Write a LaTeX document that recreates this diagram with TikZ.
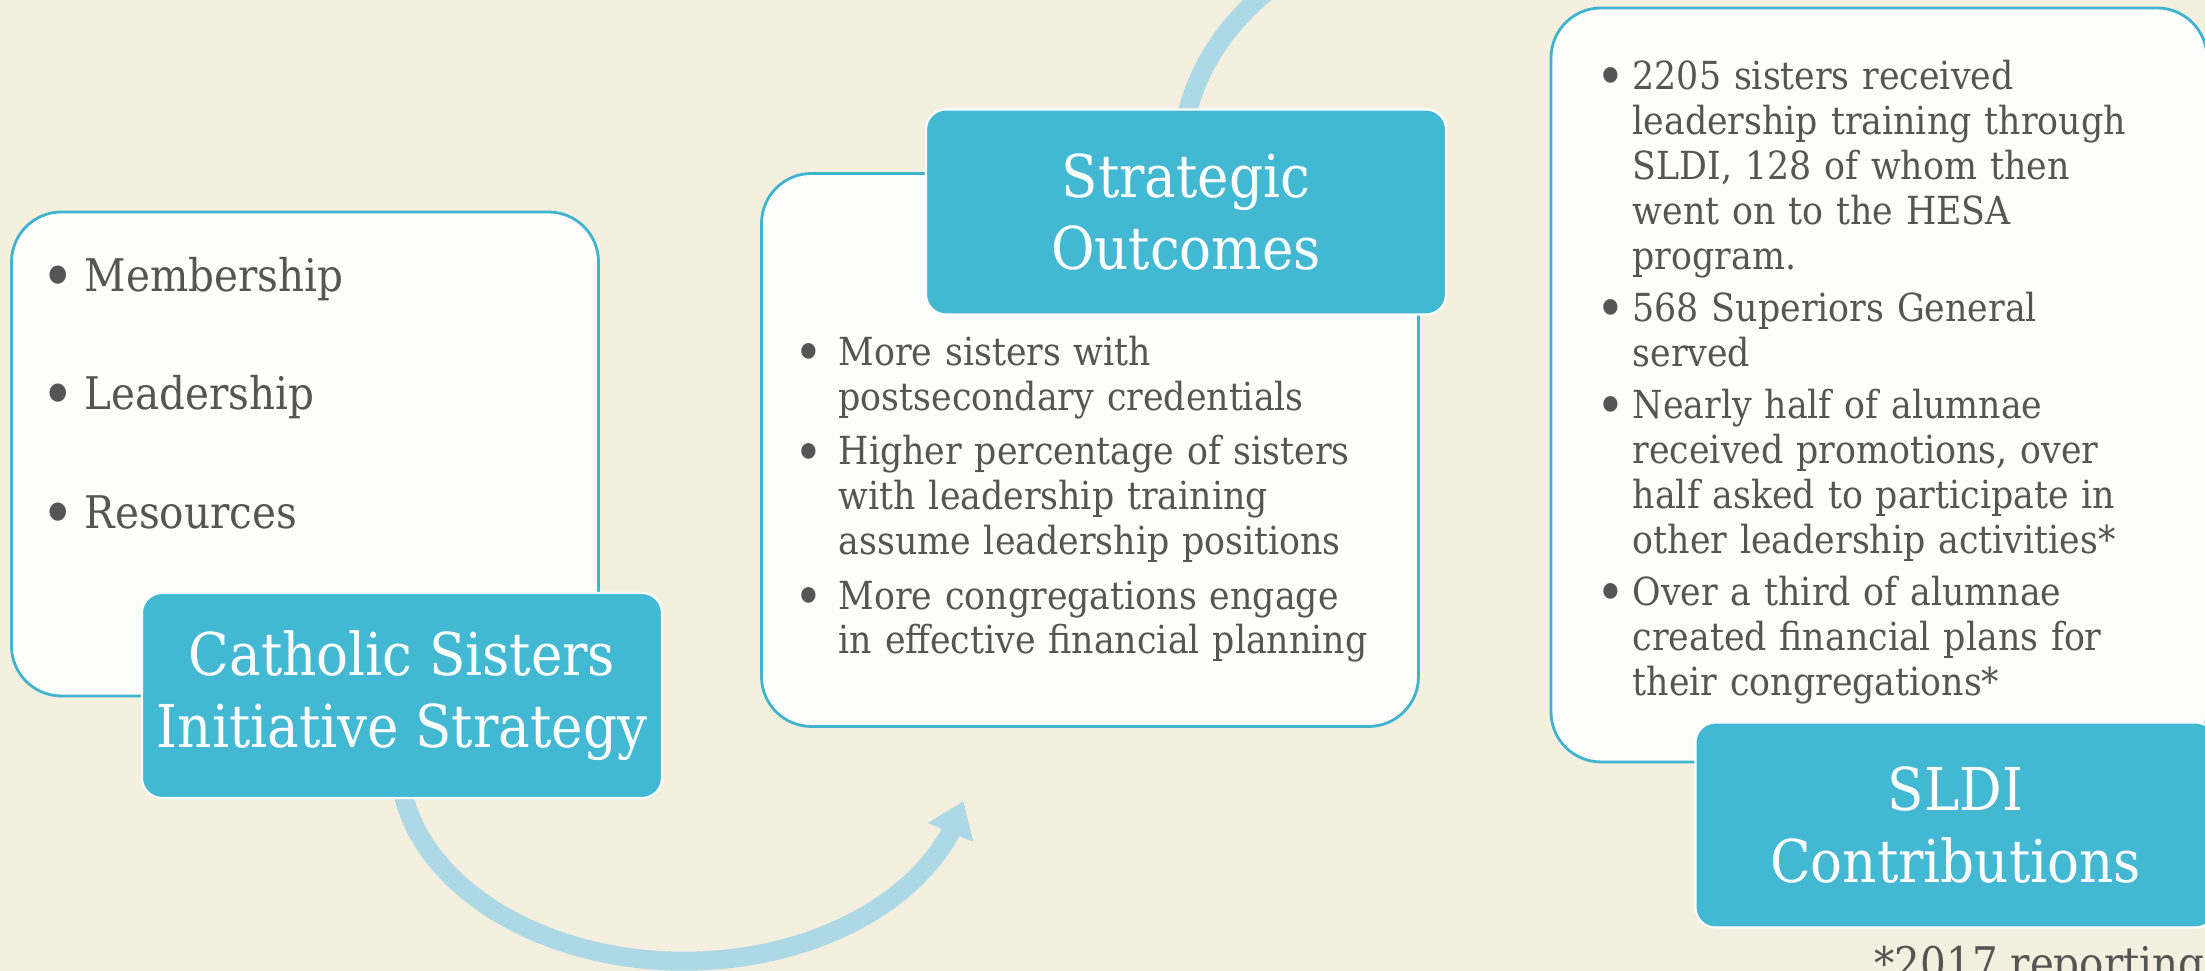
\documentclass[tikz,border=0pt]{standalone}
\usepackage{fontspec}
\setmainfont{DejaVu Serif Condensed}
\usepackage{tikz}
\usetikzlibrary{arrows.meta,bending,backgrounds,positioning}

\definecolor{paper}{HTML}{F5EFDF}
\definecolor{card}{HTML}{FDFDFB}
\definecolor{rim}{HTML}{40B4CE}
\definecolor{tile}{HTML}{42B8D3}
\definecolor{ink}{HTML}{555555}
\definecolor{sweep}{HTML}{ADD8E6}

% one bullet item, hanging indent keeps wrapped lines under the text
\newcommand{\bul}[2][1em]{\par\noindent\hangindent=#1\hangafter=1%
    \makebox[#1][l]{\hspace*{-0.1em}\raisebox{-0.16em}{\scalebox{1.4}{\textbullet}}}#2\par}

\tikzset{
    panel/.style={draw=rim, line width=0.8pt, fill=card, rounded corners=0.5cm},
    heading/.style={draw=white, line width=0.6pt, fill=tile, rounded corners=0.2cm, text=white, align=center,
        minimum width=5.2cm, minimum height=2.05cm, font=\fontsize{16.8}{20.5}\selectfont},
    points/.style={text=ink, text width=#1, inner sep=0pt, anchor=north west, font=\fontsize{11}{12.8}\selectfont},
    sweeparrow/.style={draw=sweep, line width=0.19cm}
}

\begin{document}
\begin{tikzpicture}
    \useasboundingbox (0,0) rectangle (22.05,9.71);

    \node[panel, minimum width=5.87cm, minimum height=4.84cm] (leftpanel) at (3.05,5.17) {};
    \node[panel, minimum width=6.57cm, minimum height=5.53cm] (midpanel) at (10.90,5.21) {};
    \node[panel, minimum width=6.56cm, minimum height=7.54cm] (rightpanel) at (18.79,5.86) {};

    \node[heading] (lefttile) at (4.02,2.755) {Catholic Sisters\\Initiative Strategy};
    \node[heading] (midtile) at (11.86,7.59) {Strategic\\Outcomes};
    \node[heading] (righttile) at (19.555,1.46) {SLDI\\Contributions};

    \node[points=5.2cm, font=\fontsize{12.8}{15.4}\selectfont] (leftlist) at (0.45,7.99) {\setlength{\parskip}{18.3pt}%
        \bul[0.39cm]{Membership}\bul[0.39cm]{Leadership}\bul[0.39cm]{Resources}};
    \node[points=6.2cm] (midlist) at (7.98,6.60) {\setlength{\parskip}{2.6pt}%
        \bul[0.40cm]{More sisters with\newline postsecondary credentials}
        \bul[0.40cm]{Higher percentage of sisters\newline with leadership training\newline assume leadership positions}
        \bul[0.40cm]{More congregations engage\newline in effective financial planning}};
    \node[points=6.2cm] (rightlist) at (16.00,9.34) {\setlength{\parskip}{2pt}%
        \bul[0.32cm]{2205 sisters received\newline leadership training through\newline SLDI, 128 of whom then\newline went on to the HESA\newline program.}
        \bul[0.32cm]{568 Superiors General\newline served}
        \bul[0.32cm]{Nearly half of alumnae\newline received promotions, over\newline half asked to participate in\newline other leadership activities*}
        \bul[0.32cm]{Over a third of alumnae\newline created financial plans for\newline their congregations*}};

    \node[text=ink, inner sep=0pt, anchor=base west, font=\fontsize{12.8}{15.4}\selectfont] (note) at (18.74,-0.09) {*2017 reporting};

    \begin{scope}[on background layer]
        \fill[paper] (0,0) rectangle (22.05,9.71);
        \draw[sweeparrow, -{Triangle[width=0.47cm,length=0.34cm]}] ([yshift=1mm]lefttile.south)
            arc[start angle=188, end angle=348.5, x radius=2.85cm, y radius=2cm];
        \draw[sweeparrow] ([yshift=-1mm]midtile.north)
            arc[start angle=170, end angle=110, x radius=2.85cm, y radius=2.35cm];
    \end{scope}
\end{tikzpicture}
\end{document}
